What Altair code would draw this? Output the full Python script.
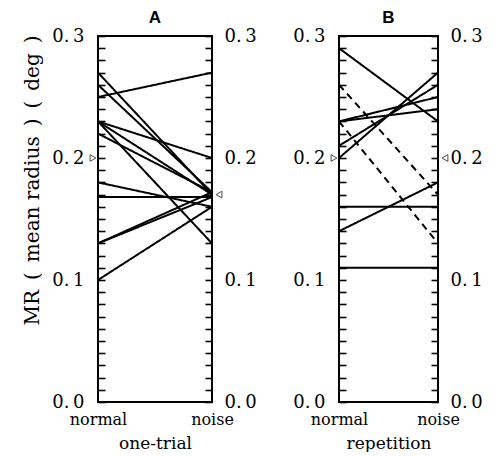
import altair as alt
import pandas as pd

# ---- data ----
conditions = ["normal", "noise"]

a_normal = [0.25, 0.27, 0.26, 0.23, 0.23, 0.22, 0.23, 0.18, 0.168, 0.13, 0.13, 0.10]
a_noise = [0.27, 0.17, 0.172, 0.20, 0.17, 0.172, 0.13, 0.16, 0.168, 0.172, 0.168, 0.16]
a_kind = ["solid"] * 12
a_means = [0.20, 0.17]

b_normal = [0.29, 0.23, 0.23, 0.21, 0.20, 0.16, 0.14, 0.11, 0.26, 0.23]
b_noise = [0.23, 0.25, 0.24, 0.26, 0.27, 0.16, 0.18, 0.11, 0.17, 0.13]
b_kind = ["solid"] * 8 + ["dashed"] * 2
b_means = [0.20, 0.20]

y_ticks = [0.0, 0.1, 0.2, 0.3]
y_title = "MR\u2002(\u2002mean radius\u2002)\u2002(\u2002deg\u2002)"

H = 366
SERIF = "DejaVu Serif"
LABEL_EXPR = "replace(format(datum.value, '.1f'), '.', '.\u2009')"
X_EXPR = f"datum.value == 0 ? '{conditions[0]}' : '{conditions[1]}'"


def panel(normal, noise, kind, means, title, xtitle, with_ytitle, W):
    rows = []
    for i, (l, r, k) in enumerate(zip(normal, noise, kind)):
        rows.append(dict(id=i, pos=0, v=l, kind=k))
        rows.append(dict(id=i, pos=1, v=r, kind=k))
    df = pd.DataFrame(rows)
    mdf = pd.DataFrame({"pos": [0, 1], "v": means})

    xs = alt.Scale(domain=[0, 1], nice=False, zero=False)
    ys = alt.Scale(domain=[0, 0.3], nice=False, zero=False)

    left_axis = alt.Axis(
        orient="left", values=y_ticks, labelExpr=LABEL_EXPR, ticks=False, tickSize=0,
        domain=False, grid=False, labelPadding=14, labelFont=SERIF, labelFontSize=18,
        labelColor="black",
        title=y_title if with_ytitle else None,
        titleFont=SERIF, titleFontSize=20, titleFontWeight="normal", titleColor="black",
        titlePadding=9, titleY=144,
    )
    right_axis = alt.Axis(
        orient="right", values=y_ticks, labelExpr=LABEL_EXPR, ticks=False, tickSize=0,
        domain=False, grid=False, labelPadding=12, labelFont=SERIF, labelFontSize=18,
        labelColor="black", title=None,
    )
    tick_in_left = alt.Axis(
        orient="right", offset=-W, tickCount=30, labels=False, domain=False, grid=False,
        ticks=True, tickSize=7, tickWidth=1.6, tickColor="black", title=None,
    )
    tick_in_right = alt.Axis(
        orient="left", offset=-W, tickCount=30, labels=False, domain=False, grid=False,
        ticks=True, tickSize=7, tickWidth=1.6, tickColor="black", title=None,
    )
    x_axis = alt.Axis(
        values=[0, 1], labelExpr=X_EXPR, ticks=False, domain=False, grid=False,
        labelFont=SERIF, labelFontSize=16, labelColor="black", labelPadding=9,
        labelFlush=False, title=xtitle, titleFont=SERIF, titleFontSize=17,
        titleFontWeight="normal", titleColor="black", titlePadding=8,
    )

    lines = alt.Chart(df).mark_line(color="black", strokeWidth=2).encode(
        x=alt.X("pos:Q", scale=xs, axis=x_axis),
        y=alt.Y("v:Q", scale=ys, axis=left_axis),
        detail="id:N",
        strokeDash=alt.StrokeDash(
            "kind:N",
            scale=alt.Scale(domain=["solid", "dashed"], range=[[1, 0], [7, 5]]),
            legend=None,
        ),
    )
    ticks_l = alt.Chart(mdf).transform_filter("datum.pos == 0").mark_point(
        shape="triangle-right", filled=False, color="black", size=45, strokeWidth=1, xOffset=-5
    ).encode(
        x=alt.X("pos:Q", scale=xs, axis=None),
        y=alt.Y("v:Q", scale=ys, axis=tick_in_left),
    )
    ticks_r = alt.Chart(mdf).transform_filter("datum.pos == 1").mark_point(
        shape="triangle-left", filled=False, color="black", size=45, strokeWidth=1, xOffset=7
    ).encode(
        x=alt.X("pos:Q", scale=xs, axis=None),
        y=alt.Y("v:Q", scale=ys, axis=tick_in_right),
    )
    right_lab = alt.Chart(mdf).mark_point(opacity=0).encode(
        x=alt.X("pos:Q", scale=xs, axis=None),
        y=alt.Y("v:Q", scale=ys, axis=right_axis),
    )
    return alt.layer(lines, ticks_l, ticks_r, right_lab).resolve_scale(
        y="independent"
    ).resolve_axis(y="independent", x="independent").properties(
        width=W, height=H,
        title=alt.TitleParams(title, font="Liberation Sans", fontSize=17, fontWeight="bold",
                              color="black", frame="group", anchor="middle", offset=0),
    )


pa = panel(a_normal, a_noise, a_kind, a_means, "A", "one-trial", True, 114)
pb = panel(b_normal, b_noise, b_kind, b_means, "B", "repetition", False, 99)

chart = alt.hconcat(pa, pb, spacing=33).properties(
    padding={"left": 13, "top": 0, "right": 5, "bottom": 0}
).configure_view(stroke="black", strokeWidth=2)

chart.save("out.html", embed_options={"renderer": "svg", "actions": False})
